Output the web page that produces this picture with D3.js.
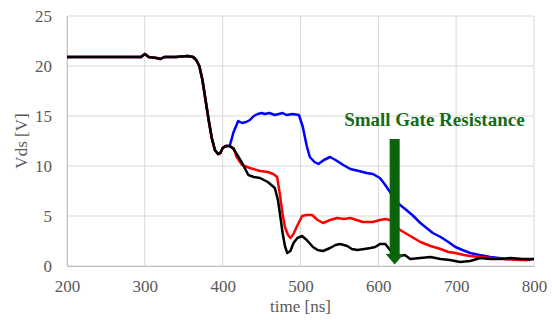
<!DOCTYPE html>
<html>
<head>
<meta charset="utf-8">
<script src="https://cdn.jsdelivr.net/npm/d3@7"></script>
<style>
  body { margin: 0; background: #fff; }
  text { font-family: "Liberation Serif", "Times New Roman", serif; }
</style>
</head>
<body>
<div id="chart"></div>
<script>
// chart size and plot margins
const width = 553;
const height = 320;
const margin = {left: 67, right: 19, top: 16, bottom: 54};

// tick values
const xTicks = [200, 300, 400, 500, 600, 700, 800];
const yTicks = [0, 5, 10, 15, 20, 25];

// common start (all three curves overlap until ~410 ns)
const tCommon = [200, 220, 240, 260, 280, 295, 300, 305, 315, 320, 325, 340, 355, 362, 366, 370, 374, 378, 382, 386, 390, 394, 397, 400, 404, 409];
const vCommon = [20.9, 20.9, 20.9, 20.9, 20.9, 20.9, 21.2, 20.9, 20.8, 20.7, 20.9, 20.9, 21.0, 20.9, 20.6, 20.0, 18.6, 16.6, 14.6, 12.8, 11.6, 11.2, 11.3, 11.8, 12.0, 12.0];

// blue (large gate resistance)
const tBlue = [409, 414, 420, 425, 430, 435, 440, 445, 450, 454, 460, 467, 472, 477, 482, 490, 498, 503, 508, 512, 518, 523, 530, 538, 545, 555, 564, 575, 585, 593, 602, 608, 615, 622, 628, 636, 645, 654, 662, 670, 680, 690, 699, 708, 718, 730, 744, 755, 763, 775, 790, 800];
const vBlue = [12.0, 13.4, 14.5, 14.3, 14.4, 14.6, 15.0, 15.2, 15.3, 15.2, 15.3, 15.1, 15.2, 15.3, 15.1, 15.2, 15.1, 13.9, 12.0, 10.9, 10.4, 10.2, 10.6, 10.9, 10.6, 10.1, 9.7, 9.5, 9.3, 9.2, 8.8, 8.2, 7.4, 6.6, 6.1, 5.6, 5.0, 4.3, 3.8, 3.3, 2.9, 2.4, 1.9, 1.6, 1.3, 1.1, 0.9, 0.8, 0.7, 0.7, 0.6, 0.7];

// red (medium gate resistance)
const tRed = [409, 414, 418, 425, 435, 448, 458, 465, 470, 474, 477, 480, 484, 487, 491, 495, 502, 508, 515, 522, 529, 538, 547, 556, 564, 572, 580, 593, 602, 609, 615, 622, 628, 641, 654, 667, 680, 690, 699, 710, 718, 730, 744, 760, 783, 795];
const vRed = [12.0, 11.8, 10.9, 10.1, 9.8, 9.5, 9.4, 9.2, 8.9, 6.9, 5.2, 3.9, 3.1, 2.8, 3.2, 3.9, 5.0, 5.1, 5.1, 4.6, 4.3, 4.6, 4.8, 4.7, 4.8, 4.6, 4.4, 4.4, 4.6, 4.7, 4.6, 4.1, 3.6, 3.0, 2.4, 2.0, 1.7, 1.4, 1.3, 1.1, 1.0, 0.9, 0.8, 0.7, 0.6, 0.6];

// black (small gate resistance)
const tBlack = [409, 414, 418, 425, 433, 440, 448, 458, 467, 471, 474, 477, 480, 483, 487, 491, 496, 502, 508, 516, 522, 529, 538, 545, 551, 560, 566, 573, 582, 590, 596, 602, 609, 615, 622, 628, 634, 641, 654, 667, 680, 692, 705, 718, 731, 744, 757, 770, 785, 800];
const vBlack = [12.0, 11.7, 11.2, 10.3, 9.1, 8.9, 8.8, 8.4, 7.8, 6.6, 5.0, 3.3, 2.0, 1.3, 1.5, 2.3, 2.8, 3.0, 2.6, 1.9, 1.6, 1.5, 1.8, 2.1, 2.2, 2.0, 1.7, 1.6, 1.7, 1.8, 1.9, 2.2, 2.2, 1.6, 1.2, 1.0, 1.1, 0.7, 0.8, 0.9, 0.7, 0.6, 0.4, 0.5, 0.8, 0.7, 0.7, 0.8, 0.7, 0.7];

// annotation
const noteText = "Small Gate Resistance";
const noteX = 672, noteY = 14.0;
const arrowX = 621, arrowTop = 12.7, arrowNeck = 1.2, arrowTip = 0.15;

const svg = d3.select("#chart")
  .append("svg")
  .attr("width", width)
  .attr("height", height);

const xScale = d3.scaleLinear()
  .domain([200, 800])
  .range([margin.left, width - margin.right]);

const yScale = d3.scaleLinear()
  .domain([0, 25])
  .range([height - margin.bottom, margin.top]);

// grid lines
svg.append("g")
  .selectAll("line")
  .data(yTicks)
  .join("line")
    .attr("x1", margin.left)
    .attr("x2", width - margin.right)
    .attr("y1", d => yScale(d))
    .attr("y2", d => yScale(d))
    .attr("stroke", "#d9d9d9")
    .attr("stroke-width", 1);

svg.append("g")
  .selectAll("line")
  .data(xTicks)
  .join("line")
    .attr("x1", d => xScale(d))
    .attr("x2", d => xScale(d))
    .attr("y1", margin.top)
    .attr("y2", height - margin.bottom)
    .attr("stroke", "#d9d9d9")
    .attr("stroke-width", 1);

// axes (no tick marks, just labels)
const xAxis = svg.append("g")
  .attr("transform", `translate(0,${height - margin.bottom})`)
  .call(d3.axisBottom(xScale).tickValues(xTicks).tickSize(0).tickPadding(14));
xAxis.select(".domain").attr("stroke", "#bfbfbf");
xAxis.selectAll("text")
  .attr("font-size", "17px")
  .attr("fill", "#595959")
  .style("font-family", "Liberation Serif, serif");

const yAxis = svg.append("g")
  .attr("transform", `translate(${margin.left},0)`)
  .call(d3.axisLeft(yScale).tickValues(yTicks).tickSize(0).tickPadding(15));
yAxis.select(".domain").attr("stroke", "#bfbfbf");
yAxis.selectAll("text")
  .attr("font-size", "17px")
  .attr("fill", "#595959")
  .style("font-family", "Liberation Serif, serif");

// axis titles
svg.append("text")
  .attr("x", (margin.left + width - margin.right) / 2)
  .attr("y", 312)
  .attr("text-anchor", "middle")
  .attr("font-size", "17px")
  .attr("fill", "#595959")
  .text("time [ns]");

svg.append("text")
  .attr("transform", `translate(27,${(margin.top + height - margin.bottom) / 2}) rotate(-90)`)
  .attr("text-anchor", "middle")
  .attr("font-size", "17px")
  .attr("fill", "#595959")
  .text("Vds [V]");

// curves
const line = d3.line()
  .x(d => xScale(d[0]))
  .y(d => yScale(d[1]));

const joinSeries = (t, v) => d3.zip(tCommon, vCommon).concat(d3.zip(t, v).slice(1));

const series = [
  {name: "blue", color: "#0000ff", pts: joinSeries(tBlue, vBlue)},
  {name: "red", color: "#ff0000", pts: joinSeries(tRed, vRed)},
  {name: "black", color: "#000000", pts: joinSeries(tBlack, vBlack)}
];

svg.append("g")
  .selectAll("path")
  .data(series)
  .join("path")
    .attr("d", d => line(d.pts))
    .attr("fill", "none")
    .attr("stroke", d => d.color)
    .attr("stroke-width", 2.5)
    .attr("stroke-linejoin", "round");

// arrow
const ax = xScale(arrowX);
const shaftHalf = 5;
const headHalf = 9;
const arrowPts = [
  [ax - shaftHalf, yScale(arrowTop)],
  [ax + shaftHalf, yScale(arrowTop)],
  [ax + shaftHalf, yScale(arrowNeck)],
  [ax + headHalf, yScale(arrowNeck)],
  [ax, yScale(arrowTip)],
  [ax - headHalf, yScale(arrowNeck)],
  [ax - shaftHalf, yScale(arrowNeck)]
];
svg.append("polygon")
  .attr("points", arrowPts.map(p => p.join(",")).join(" "))
  .attr("fill", "#0b630b");

svg.append("text")
  .attr("x", xScale(noteX))
  .attr("y", yScale(noteY))
  .attr("text-anchor", "middle")
  .attr("font-size", "19px")
  .attr("font-weight", "bold")
  .attr("fill", "#176b17")
  .text(noteText);
</script>
</body>
</html>
